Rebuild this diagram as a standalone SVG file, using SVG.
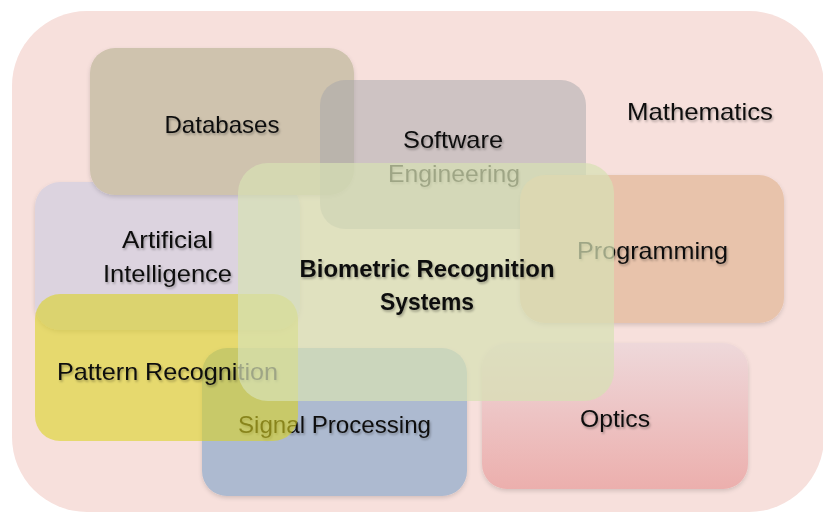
<svg xmlns="http://www.w3.org/2000/svg" width="823" height="515" viewBox="0 0 823 515">
<defs>
<linearGradient id="optG" x1="0" y1="0" x2="0" y2="1">
<stop offset="0" stop-color="#eed8da"/>
<stop offset="1" stop-color="#ecafad"/>
</linearGradient>
<filter id="ts" x="-10%" y="-30%" width="120%" height="160%">
<feDropShadow dx="1.2" dy="1.8" stdDeviation="1" flood-color="#000" flood-opacity="0.3"/>
</filter>
<filter id="bs" x="-10%" y="-10%" width="120%" height="125%">
<feDropShadow dx="0" dy="2" stdDeviation="2" flood-color="#000" flood-opacity="0.15"/>
</filter>
</defs>
<style>
.t{font-family:"Liberation Sans",Arial,sans-serif;font-size:24px;fill:#111;text-anchor:middle;filter:url(#ts)}
.b{font-weight:bold}
</style>
<rect id="outer" x="12" y="11" width="812" height="501" rx="75" fill="#f7e0dc"/>
<g id="ai">
<rect x="35" y="182" width="265" height="148" rx="25" fill="#dcd3df" filter="url(#bs)"/>
<text class="t" x="167.5" y="248" textLength="91" lengthAdjust="spacingAndGlyphs">Artificial</text>
<text class="t" x="167.5" y="282" textLength="129" lengthAdjust="spacingAndGlyphs">Intelligence</text>
</g>
<g id="databases">
<rect x="90" y="48" width="264" height="147" rx="25" fill="#cfc3ae" filter="url(#bs)"/>
<text class="t" x="222" y="133" textLength="115" lengthAdjust="spacingAndGlyphs">Databases</text>
</g>
<g id="software">
<rect x="320" y="80" width="266" height="149" rx="25" fill="#a5a6aa" fill-opacity="0.5"/>
<text class="t" x="453" y="148" textLength="100" lengthAdjust="spacingAndGlyphs">Software</text>
<text class="t" x="454" y="182" textLength="132" lengthAdjust="spacingAndGlyphs">Engineering</text>
</g>
<g id="mathematics">
<text class="t" x="700" y="120" textLength="146" lengthAdjust="spacingAndGlyphs">Mathematics</text>
</g>
<g id="programming">
<rect x="520" y="175" width="264" height="148" rx="25" fill="#e8c3ab" filter="url(#bs)"/>
<text class="t" x="652.5" y="259" textLength="151" lengthAdjust="spacingAndGlyphs">Programming</text>
</g>
<g id="optics">
<rect x="482" y="343" width="266" height="146" rx="25" fill="url(#optG)" filter="url(#bs)"/>
<text class="t" x="615" y="427" textLength="70" lengthAdjust="spacingAndGlyphs">Optics</text>
</g>
<g id="signal">
<rect x="202" y="348" width="265" height="148" rx="25" fill="#adbad0" filter="url(#bs)"/>
<text class="t" x="334.5" y="433" textLength="193" lengthAdjust="spacingAndGlyphs">Signal Processing</text>
</g>
<g id="pattern">
<rect x="35" y="294" width="263" height="147" rx="25" fill="#dbd325" fill-opacity="0.6"/>
<text class="t" x="167.5" y="380" textLength="221" lengthAdjust="spacingAndGlyphs">Pattern Recognition</text>
</g>
<g id="biometric">
<rect x="238" y="163" width="376" height="238" rx="30" fill="#d7e1b4" fill-opacity="0.72"/>
<text class="t b" x="427" y="277" textLength="255" lengthAdjust="spacingAndGlyphs">Biometric Recognition</text>
<text class="t b" x="427" y="310" textLength="94" lengthAdjust="spacingAndGlyphs">Systems</text>
</g>
<g id="connectors"/>
</svg>
